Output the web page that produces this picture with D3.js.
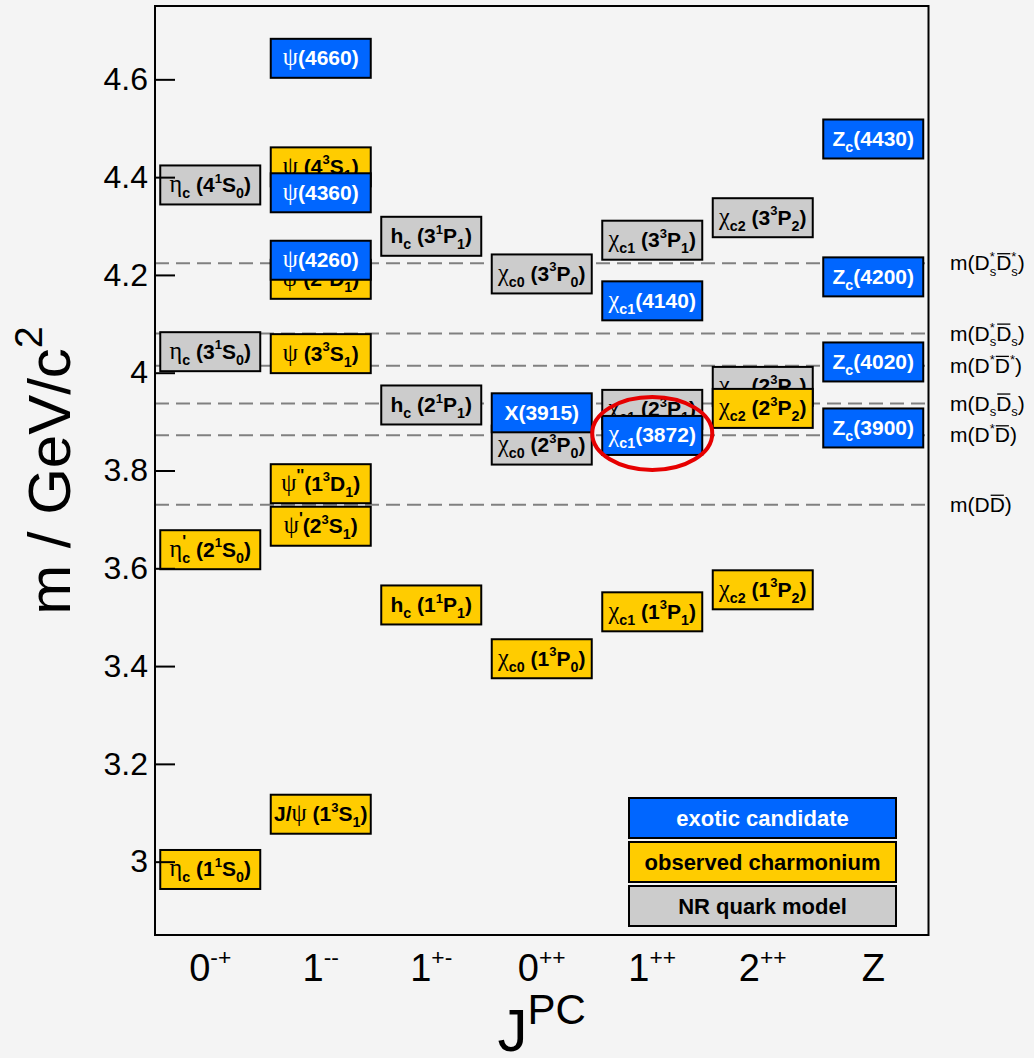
<!DOCTYPE html>
<html><head><meta charset="utf-8">
<script src="https://cdn.jsdelivr.net/npm/d3@7"></script>
<style>html,body{margin:0;padding:0;background:#f4f4f4;} svg{display:block;}</style>
</head><body>
<svg id="c" width="1034" height="1058"></svg>
<script>
// ---------------- data ----------------
const categories = ["0-+", "1--", "1+-", "0++", "1++", "2++", "Z"];
const categoryLabels = ["0^{-+}", "1^{--}", "1^{+-}", "0^{++}", "1^{++}", "2^{++}", "Z"];
const yTicks = [3.0, 3.2, 3.4, 3.6, 3.8, 4.0, 4.2, 4.4, 4.6];

// NR quark model predictions (grey)
const modelNames = ["#eta_{c} (3^{1}S_{0})", "#eta_{c} (4^{1}S_{0})", "h_{c} (2^{1}P_{1})", "h_{c} (3^{1}P_{1})",
  "#chi_{c0} (2^{3}P_{0})", "#chi_{c0} (3^{3}P_{0})", "#chi_{c1} (2^{3}P_{1})", "#chi_{c1} (3^{3}P_{1})",
  "#chi_{c2} (2^{3}P_{2})", "#chi_{c2} (3^{3}P_{2})"];
const modelCats = ["0-+", "0-+", "1+-", "1+-", "0++", "0++", "1++", "1++", "2++", "2++"];
const modelMasses = [4.043, 4.384, 3.934, 4.279, 3.852, 4.202, 3.925, 4.271, 3.972, 4.317];

// observed charmonium (yellow)
const charmNames = ["#eta_{c} (1^{1}S_{0})", "#eta_{c}^{'} (2^{1}S_{0})", "J/#psi (1^{3}S_{1})", "#psi^{'}(2^{3}S_{1})",
  "#psi^{''}(1^{3}D_{1})", "#psi (3^{3}S_{1})", "#psi (2^{3}D_{1})", "#psi (4^{3}S_{1})", "h_{c} (1^{1}P_{1})",
  "#chi_{c0} (1^{3}P_{0})", "#chi_{c1} (1^{3}P_{1})", "#chi_{c2} (1^{3}P_{2})", "#chi_{c2} (2^{3}P_{2})"];
const charmCats = ["0-+", "0-+", "1--", "1--", "1--", "1--", "1--", "1--", "1+-", "0++", "1++", "2++", "2++"];
const charmMasses = [2.984, 3.638, 3.097, 3.686, 3.773, 4.039, 4.191, 4.421, 3.525, 3.415, 3.511, 3.556, 3.927];

// exotic candidates (blue)
const exoticNames = ["#psi(4260)", "#psi(4360)", "#psi(4660)", "X(3915)", "#chi_{c1}(3872)", "#chi_{c1}(4140)",
  "Z_{c}(3900)", "Z_{c}(4020)", "Z_{c}(4200)", "Z_{c}(4430)"];
const exoticCats = ["1--", "1--", "1--", "0++", "1++", "1++", "Z", "Z", "Z", "Z"];
const exoticMasses = [4.230, 4.368, 4.643, 3.918, 3.8717, 4.147, 3.887, 4.022, 4.196, 4.478];

// open-charm thresholds
const thresholdNames = ["m(D^{*}_{s}#bar{D}^{*}_{s})", "m(D^{*}_{s}#bar{D}_{s})", "m(D^{*}#bar{D}^{*})",
  "m(D_{s}#bar{D}_{s})", "m(D^{*}#bar{D})", "m(D#bar{D})"];
const thresholdMasses = [4.224, 4.080, 4.014, 3.937, 3.872, 3.730];

const legendLabels = ["exotic candidate", "observed charmonium", "NR quark model"];
const highlighted = "#chi_{c1}(3872)";

// ---------------- style ----------------
const COLORS = { exotic: "#0066ff", charm: "#ffcc00", model: "#cccccc" };
const SANS = "'Liberation Sans', Arial, Helvetica, sans-serif";
const SERIF = "'Liberation Serif', 'Times New Roman', serif";
const W = 1034, H = 1058;
const M = { left: 155, right: 928.5, top: 6, bottom: 935 };
const BOX_H = 39;

const svg = d3.select("#c");
svg.append("rect").attr("width", W).attr("height", H).attr("fill", "#f4f4f4");

const x = d3.scaleBand().domain(categories).range([M.left, M.right]).paddingInner(0.095).paddingOuter(0.0475);
const y = d3.scaleLinear().domain([2.85, 4.75]).range([M.bottom, M.top]);

// ---------------- rich text (TLatex-like) ----------------
const GREEK = { "#eta": "\u03B7", "#psi": "\u03C8", "#chi": "\u03C7" };
function parse(str, bar) {
  const segs = [];
  let i = 0, buf = "";
  const flush = () => { if (buf) { segs.push({ t: buf, mode: "n", greek: false, bar: !!bar }); buf = ""; } };
  function group(j) {
    let depth = 0, k = j;
    for (; k < str.length; k++) {
      if (str[k] === "{") depth++;
      else if (str[k] === "}") { depth--; if (depth === 0) break; }
    }
    return [str.slice(j + 1, k), k + 1];
  }
  while (i < str.length) {
    if (str.startsWith("#bar{", i)) {
      flush();
      const [inner, n] = group(i + 4);
      parse(inner, true).forEach(s => segs.push(s));
      i = n; continue;
    }
    let g = null;
    for (const k in GREEK) if (str.startsWith(k, i)) g = k;
    if (g) { flush(); segs.push({ t: GREEK[g], mode: "n", greek: true, bar: !!bar }); i += g.length; continue; }
    if ((str[i] === "^" || str[i] === "_") && str[i + 1] === "{") {
      flush();
      const mode = str[i] === "^" ? "sup" : "sub";
      const [inner, n] = group(i + 1);
      const prev = segs[segs.length - 1];
      const stack = !!(prev && prev.mode !== "n" && prev.mode !== mode && !prev.stack);
      segs.push({ t: inner, mode, stack, greek: false, bar: !!bar });
      i = n; continue;
    }
    buf += str[i]; i++;
  }
  flush();
  return segs;
}

function rich(sel, str, o) {
  const text = sel.append("text")
    .attr("x", o.x).attr("y", o.y)
    .attr("text-anchor", o.anchor || "middle")
    .attr("fill", o.fill || "#000")
    .style("font-family", SANS)
    .style("font-weight", o.weight || "normal")
    .style("font-size", o.size + "px");
  const segs = parse(str);
  let shift = 0, pendingDx = 0, lastScriptW = 0, idx = 0;
  const bars = [];
  segs.forEach(s => {
    const primeSup = s.mode === "sup" && /^'+$/.test(s.t);
    const fs = s.mode === "sup" ? o.size * o.supScale * (primeSup ? 1.25 : 1) : s.mode === "sub" ? o.size * o.subScale : o.size * (s.greek ? (o.greekScale || 1) : 1);
    const target = s.mode === "sup" ? -o.supShift * o.size : s.mode === "sub" ? o.subShift * o.size : 0;
    const ts = text.append("tspan").text(s.t).style("font-size", fs + "px");
    if (s.greek) ts.style("font-family", SERIF).style("font-weight", "normal");
    let dx = s.stack ? -lastScriptW : pendingDx;
    pendingDx = 0;
    if (target - shift !== 0) ts.attr("dy", target - shift);
    if (dx) ts.attr("dx", dx);
    shift = target;
    const w = ts.node().getComputedTextLength();
    if (s.stack) { if (lastScriptW > w) pendingDx = lastScriptW - w; lastScriptW = 0; }
    else if (s.mode !== "n") lastScriptW = w;
    else lastScriptW = 0;
    if (s.bar && s.mode === "n") bars.push([idx, idx + s.t.length - 1]);
    idx += s.t.length;
  });
  bars.forEach(([a, b]) => {
    const e1 = text.node().getExtentOfChar(a), e2 = text.node().getExtentOfChar(b);
    sel.append("line")
      .attr("x1", e1.x + 1).attr("x2", e2.x + e2.width - 1)
      .attr("y1", e1.y + o.size * 0.12).attr("y2", e1.y + o.size * 0.12)
      .attr("stroke", o.fill || "#000").attr("stroke-width", 1.3);
  });
  return text;
}

// ---------------- threshold lines ----------------
const gThr = svg.append("g");
gThr.selectAll("line").data(thresholdMasses).join("line")
  .attr("x1", M.left).attr("x2", M.right)
  .attr("y1", d => y(d)).attr("y2", d => y(d))
  .attr("stroke", "#808080").attr("stroke-width", 2).attr("stroke-dasharray", "14,7");
thresholdNames.forEach((n, i) => {
  rich(gThr, n, { x: 950, y: y(thresholdMasses[i]) + 7, anchor: "start", size: 21, supScale: 0.62, subScale: 0.62, supShift: 0.42, subShift: 0.28 });
});

// ---------------- states ----------------
const states = [];
modelNames.forEach((n, i) => states.push({ name: n, cat: modelCats[i], m: modelMasses[i], type: "model" }));
charmNames.forEach((n, i) => states.push({ name: n, cat: charmCats[i], m: charmMasses[i], type: "charm" }));
exoticNames.forEach((n, i) => states.push({ name: n, cat: exoticCats[i], m: exoticMasses[i], type: "exotic" }));

const gStates = svg.append("g");
states.forEach(s => {
  const g = gStates.append("g");
  g.append("rect")
    .attr("x", x(s.cat)).attr("y", y(s.m) - BOX_H / 2)
    .attr("width", x.bandwidth()).attr("height", BOX_H)
    .attr("fill", COLORS[s.type]).attr("stroke", "#000").attr("stroke-width", 2);
  rich(g, s.name, {
    x: x(s.cat) + x.bandwidth() / 2, y: y(s.m) + 7, size: 21, weight: "bold",
    fill: s.type === "exotic" ? "#fff" : "#000", greekScale: 1.15,
    supScale: 0.62, subScale: 0.68, supShift: 0.45, subShift: 0.28
  });
});

// ---------------- axes & frame ----------------
const yAxis = d3.axisLeft(y).tickValues(yTicks).tickFormat(d3.format("~g")).tickSizeInner(-20).tickSizeOuter(0).tickPadding(7);
const gy = svg.append("g").attr("transform", `translate(${M.left},0)`).call(yAxis);
gy.select(".domain").remove();
gy.selectAll(".tick line").attr("stroke", "#000").attr("stroke-width", 2);
gy.selectAll(".tick text").style("font-family", SANS).style("font-size", "32px").attr("fill", "#000");

svg.append("rect").attr("x", M.left).attr("y", M.top)
  .attr("width", M.right - M.left).attr("height", M.bottom - M.top)
  .attr("fill", "none").attr("stroke", "#000").attr("stroke-width", 2);

categories.forEach((c, i) => {
  rich(svg, categoryLabels[i], { x: x(c) + x.bandwidth() / 2, y: 981, size: 38, supScale: 0.6, subScale: 0.6, supShift: 0.42, subShift: 0.25 });
});

rich(svg, "J^{PC}", { x: (M.left + M.right) / 2, y: 1051, size: 60, supScale: 0.7, subScale: 0.7, supShift: 0.45, subShift: 0.25 });
const gTitle = svg.append("g").attr("transform", `translate(70,${(M.top + M.bottom) / 2}) rotate(-90)`);
rich(gTitle, "m / GeV/c^{2}", { x: 0, y: 0, size: 60, supScale: 0.66, subScale: 0.66, supShift: 0.47, subShift: 0.25 });

// ---------------- legend ----------------
const legendTypes = ["exotic", "charm", "model"];
const gLeg = svg.append("g");
legendLabels.forEach((l, i) => {
  const yy = 798 + i * 44;
  gLeg.append("rect").attr("x", 629).attr("y", yy).attr("width", 267).attr("height", 40)
    .attr("fill", COLORS[legendTypes[i]]).attr("stroke", "#000").attr("stroke-width", 2);
  gLeg.append("text").attr("x", 762.5).attr("y", yy + 28).attr("text-anchor", "middle")
    .style("font-family", SANS).style("font-weight", "bold").style("font-size", "22px")
    .attr("fill", legendTypes[i] === "exotic" ? "#fff" : "#000").text(l);
});

// ---------------- highlight ellipse ----------------
const hi = states.find(s => s.name === highlighted);
svg.append("ellipse")
  .attr("cx", x(hi.cat) + x.bandwidth() / 2).attr("cy", y(hi.m) - 2)
  .attr("rx", x.bandwidth() / 2 + 10).attr("ry", 36.5)
  .attr("fill", "none").attr("stroke", "#e60000").attr("stroke-width", 4);
</script>
</body></html>
